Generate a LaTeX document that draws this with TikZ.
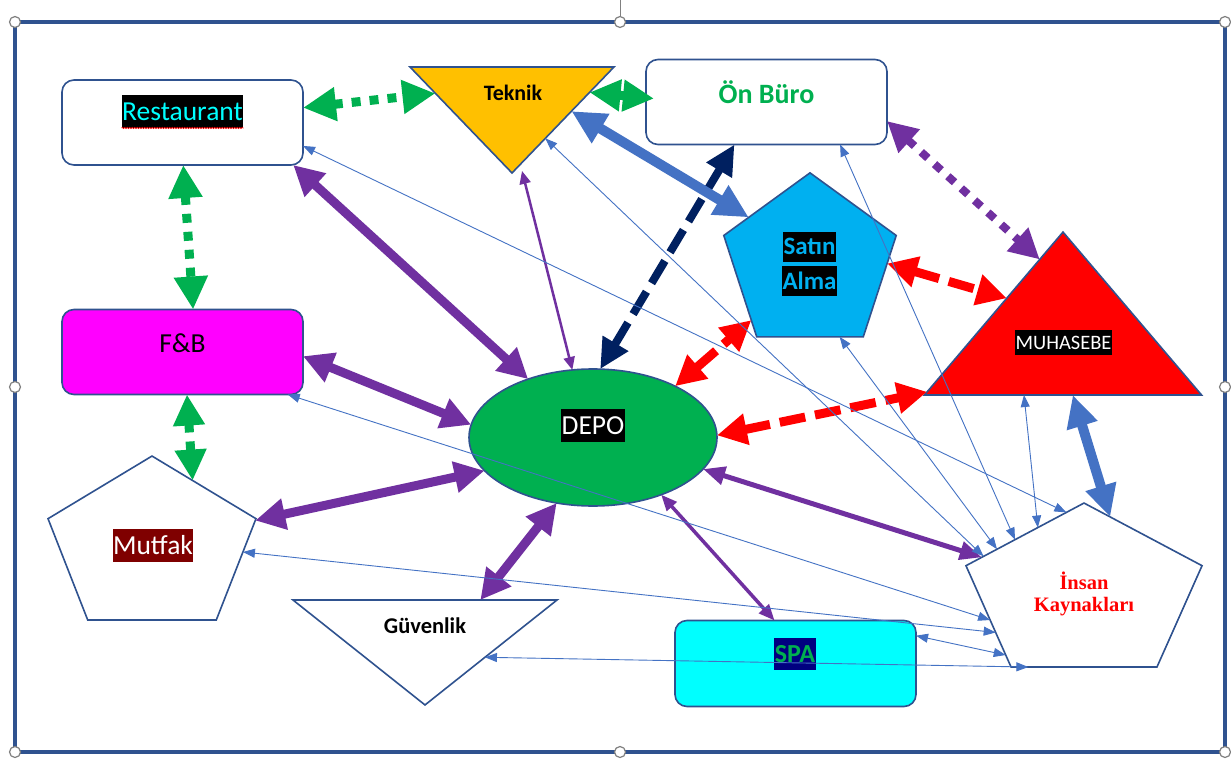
\documentclass[tikz,border=0pt]{standalone}
\usepackage{fontspec}
\setmainfont{Carlito}
\newfontfamily\timesfont{Liberation Serif}
\usepackage{tikz}
\usetikzlibrary{shapes.geometric,arrows.meta,decorations.pathmorphing}

\definecolor{outline}{HTML}{2F528F}
\definecolor{lineblue}{HTML}{4472C4}
\definecolor{vio}{HTML}{7030A0}
\definecolor{grn}{HTML}{00B050}
\definecolor{navy}{HTML}{002060}
\definecolor{orng}{HTML}{FFC000}
\definecolor{sky}{HTML}{00B0F0}
\definecolor{magn}{HTML}{FF00FF}
\definecolor{aqua}{HTML}{00FFFF}
\definecolor{maroon}{HTML}{7F0000}
\definecolor{hlnavy}{HTML}{000080}
\definecolor{handle}{HTML}{808080}

\begin{document}
\begin{tikzpicture}[x=1pt, y=-1pt,
  box/.style={draw=outline, line width=1.6pt, rounded corners=12pt,
    minimum width=241pt, minimum height=85pt, inner sep=0pt, outer sep=0pt},
  tri/.style={draw=outline, line width=1.6pt, regular polygon,
    regular polygon sides=3, inner sep=0pt, outer sep=0pt},
  pent/.style={draw=outline, line width=1.6pt, regular polygon,
    regular polygon sides=5, inner sep=0pt, outer sep=0pt,
    minimum size=181.3pt},
  lbl/.style={inner xsep=0.5pt, inner ysep=0pt, minimum height=1.2*#1,
    font=\fontsize{#1}{#1}\selectfont},
  lbl/.default=27.5pt,
  heads/.style 2 args={{Triangle[length=#1,width=#2]}-{Triangle[length=#1,width=#2]}},
  fat/.style={line width=9pt, heads={30pt}{30pt}},
  dotline/.style={dash pattern=on 9pt off 9pt},
  dashline/.style={dash pattern=on 26pt off 10pt},
  ikline/.style={lineblue, line width=0.9pt, heads={12pt}{9pt}}]

  \fill[white] (0,0) rectangle (1231,762);
  \useasboundingbox (0,0) rectangle (1231,762);
  \draw[outline, line width=4.5pt] (15,22) rectangle (1225,752);
  \draw[handle, line width=0.8pt] (620,0) -- (620,17);
  \draw[handle, line width=1.2pt, fill=white] (15,22) circle (5.5pt) (620,22) circle (5.5pt)
    (1225,22) circle (5.5pt) (15,387) circle (5.5pt) (1225,387) circle (5.5pt)
    (15,752) circle (5.5pt) (620,752) circle (5.5pt) (1225,752) circle (5.5pt);

  % shapes
  \node[box, fill=white] (rest) at (182.5,122.5) {};
  \node[box, fill=white] (onburo) at (766.5,102) {};
  \node[box, fill=magn] (fnb) at (182.5,352) {};
  \node[box, fill=aqua, minimum height=86pt] (spa) at (795.5,663.5) {};
  \node[ellipse, draw=outline, line width=1.6pt, fill=grn, minimum width=248pt,
    minimum height=137pt, inner sep=0pt, outer sep=0pt] (depo) at (593,437.5) {};
  \node[tri, fill=orng, shape border rotate=180, minimum size=235.6pt,
    yscale=0.6] (teknik) at (512,102.3) {};
  \node[tri, fill=red, minimum size=320pt, yscale=0.679] (muhasebe) at (1063,340.7) {};
  \node[tri, fill=white, shape border rotate=180, minimum size=304.8pt,
    yscale=0.459] (guvenlik) at (425,635) {};
  \node[pent, fill=sky] (satin) at (810,263.5) {};
  \node[pent, fill=white, xscale=1.206] (mutfak) at (152,546.7) {};
  \node[pent, fill=white, xscale=1.369] (ik) at (1084,593.7) {};

  % texts
  \node[lbl, fill=black, text=aqua] (t-rest) at (182.5,111.3) {Restaurant};
  \draw[red, line width=0.6pt, decorate, decoration={snake, amplitude=0.7pt,
    segment length=2.5pt}] (t-rest.south west) -- (t-rest.south east);
  \node[lbl=22pt] (t-teknik) at (513,93) {\bfseries Teknik};
  \node[lbl=28pt, text=grn] (t-onburo) at (766.5,92) {\bfseries Ön Büro};
  \node[lbl=25pt, fill=black, text=sky] (t-satin1) at (809.5,246.5) {\bfseries Satın};
  \node[lbl=25pt, fill=black, text=sky] (t-satin2) at (809.5,280.5) {\bfseries Alma};
  \node[lbl=20.5pt, fill=black, text=white] (t-muhasebe) at (1063.5,342.5) {MUHASEBE};
  \node[lbl] (t-fnb) at (182.5,343) {F\&B};
  \node[lbl, fill=black, text=white] (t-depo) at (593,425.5) {DEPO};
  \node[lbl, fill=maroon, text=white] (t-mutfak) at (153,545) {Mutfak};
  \node[lbl=22.5pt] (t-guvenlik) at (425,625.5) {\bfseries Güvenlik};
  \node[lbl=26pt, fill=hlnavy, text=grn] (t-spa) at (795,654) {\bfseries SPA};
  \node[lbl=20.5pt, text=red] (t-ik1) at (1084,581) {\timesfont\bfseries İnsan};
  \node[lbl=20.5pt, text=red] (t-ik2) at (1084,607) {\timesfont\bfseries Kaynakları};

  % green dotted
  \draw[grn, fat, dotline, heads={33pt}{32pt}] (rest.7) -- (teknik.169);
  \draw[grn, fat, dotline, heads={31pt}{30pt}, shorten >=-8pt] (teknik.12) -- (onburo.178);
  \draw[grn, fat, dotline, heads={33pt}{32pt}] (rest.271) -- (fnb.76);
  \draw[grn, fat, dotline, heads={31pt}{30pt}] (fnb.276) -- (mutfak.63);

  % purple
  \draw[vio, fat] (rest.339) -- (depo.138);
  \draw[vio, fat] (fnb.358) -- (depo.174);
  \draw[vio, fat] (mutfak.17) -- (depo.197);
  \draw[vio, fat] (guvenlik.54) -- (depo.241);
  \draw[vio, line width=5pt, heads={22pt}{18pt}] (depo.344) -- (ik.154);
  \draw[vio, line width=3.5pt, heads={16pt}{13pt}] (depo.320) -- (spa.116);
  \draw[vio, line width=2.5pt, heads={13pt}{11pt}] (depo.107) -- ([xshift=8pt]teknik.271);
  \draw[vio, fat, line width=8pt, dotline] (onburo.351) -- (muhasebe.101);

  % navy and blue
  \draw[navy, line width=8pt, dashline, heads={30pt}{28pt}] (depo.84) -- (onburo.233);
  \draw[lineblue, line width=10pt, heads={34pt}{32pt}] (teknik.346) -- (satin.143);
  \draw[lineblue, line width=10pt, heads={32pt}{30pt}] (muhasebe.277) -- (ik.76);

  % red dashed
  \draw[red, fat, dashline] (satin.0) -- (muhasebe.132);
  \draw[red, fat, dashline] (depo.32) -- (satin.224);
  \draw[red, fat, dashline] (depo.1) -- (muhasebe.209);

  % thin lines to İK
  \draw[ikline] (rest.349) -- (ik.99);
  \draw[ikline] (teknik.299) -- (ik.153);
  \draw[ikline] (satin.292) -- (ik.145);
  \draw[ikline] (onburo.330) -- (ik.133);
  \draw[ikline] (muhasebe.244) -- (ik.117);
  \draw[ikline] (fnb.338) -- (ik.201);
  \draw[ikline] (mutfak.356) -- (ik.211);
  \draw[ikline] (spa.13) -- (ik.227);
  \draw[ikline] (guvenlik.321) -- (ik.241);
\end{tikzpicture}
\end{document}
